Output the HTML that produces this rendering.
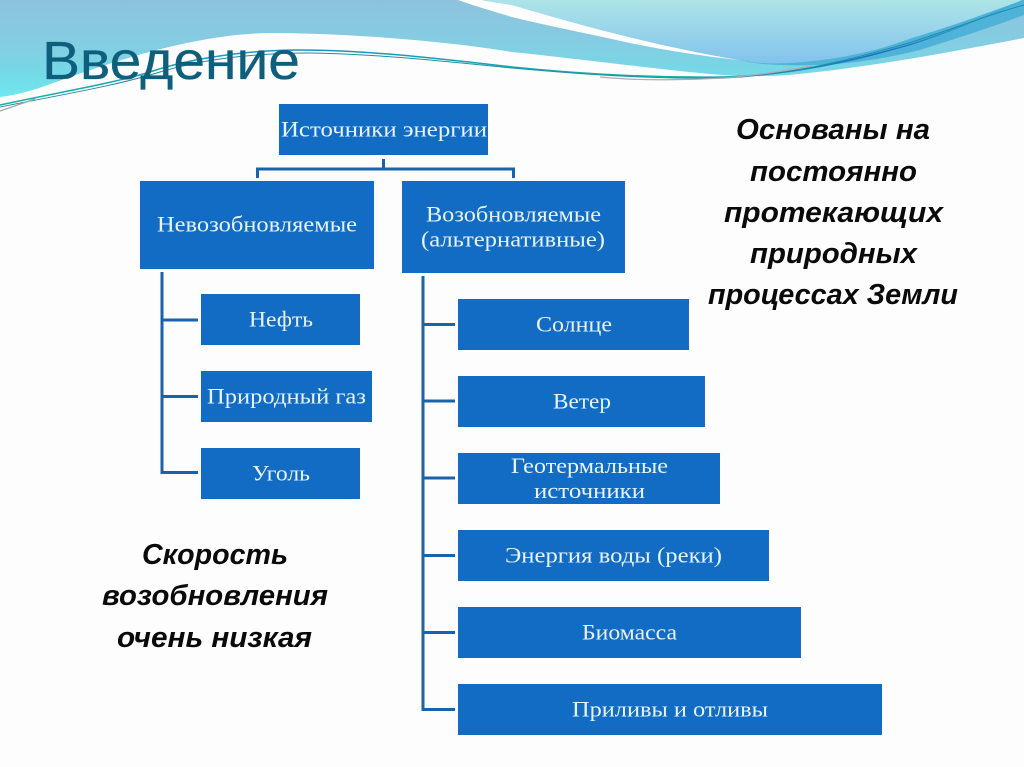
<!DOCTYPE html>
<html><head><meta charset="utf-8"><style>html,body{margin:0;padding:0;background:#fdfdfd}svg{display:block}</style></head><body>
<svg width="1024" height="767" viewBox="0 0 1024 767" xmlns="http://www.w3.org/2000/svg">
<defs>
<linearGradient id="a" x1="0" y1="0" x2="0" y2="1"><stop offset="0" stop-color="#8cc2dd"/><stop offset=".45" stop-color="#84cde2"/><stop offset=".75" stop-color="#75d8e6"/><stop offset="1" stop-color="#6ce9ee"/></linearGradient>
<linearGradient id="b" x1="0" y1="0" x2="0" y2="1"><stop offset="0" stop-color="#aee4e8"/><stop offset="1" stop-color="#82c3ec"/></linearGradient>
<linearGradient id="d" x1="0" y1="0" x2="1" y2="0"><stop offset="0" stop-color="#19b39c"/><stop offset=".3" stop-color="#1f8fc9"/><stop offset=".65" stop-color="#12b5a0"/><stop offset=".85" stop-color="#1c6fc4"/><stop offset="1" stop-color="#45b3d8"/></linearGradient>
</defs>
<rect width="1024" height="767" fill="#fdfdfd"/>
<path d="M0 0H1024V38C960 50 880 66 789 75C760 77 725 76 700 73C640 67 570 58 512 52C440 40 340 33 267 33C200 35 133 55 67 78C45 86 25 94 0 97Z" fill="url(#a)"/>
<path d="M458 0H482C490 2 500 3 512 5C570 22 650 45 739 60C700 56 650 48 612 39C570 30 540 24 512 17C495 12 475 6 458 0Z" fill="#fdfdfd"/>
<path d="M482 0H1024C1000 8 960 24 912 38C880 50 840 60 789 63C770 64 755 63 739 60C650 45 570 22 512 5C500 3 490 2 482 0Z" fill="url(#b)"/>
<path d="M739 60C755 63 770 64 789 63C840 60 880 50 912 38C960 24 1000 8 1024 0V15C990 28 945 42 920 50C880 60 840 65 812 65C780 66 755 64 739 60Z" fill="#4fb3d9"/>
<path d="M0 105C60 92 110 84 150 72C190 58 250 50 300 50C370 50 450 60 512 67C580 74 650 78 725 77C790 75 850 62 912 44C950 32 990 15 1024 0" fill="none" stroke="url(#d)" stroke-width="1.5"/>
<path d="M0 107C60 95 115 86 160 72C200 60 250 53 310 53C380 54 450 62 512 68C590 75 650 79 725 78C790 75 850 60 912 42C950 30 990 14 1024 5" fill="none" stroke="#1f8fa8" stroke-width="1"/>
<path d="M600 77C640 81 680 80 725 78C760 75 790 70 812 66" fill="none" stroke="#a9aeb0" stroke-width="1.2"/>
<path d="M0 111L35 99" fill="none" stroke="#a0a6a8" stroke-width="1.2"/>
<text x="42" y="79" font-family="'Liberation Sans',sans-serif" font-size="54" fill="#0f5f7c" stroke="#0f5f7c" stroke-width=".3" textLength="258" lengthAdjust="spacingAndGlyphs">Введение</text>
<g fill="none" stroke="#1a62ac" stroke-width="3">
<path d="M383.5 159V169M257.5 178V169H513.5V178"/>
<path d="M162 272V472.5H198M162 320H198M162 396.5H198"/>
<path d="M423 276V709.5H455M423 324.5H455M423 401H455M423 478H455M423 555.5H455M423 632.5H455"/>
</g>
<g fill="#126cc4">
<rect x="279" y="104" width="209" height="51"/>
<rect x="140" y="181" width="234" height="88"/>
<rect x="402" y="181" width="223" height="92"/>
<rect x="201" y="294" width="159" height="51"/>
<rect x="201" y="371" width="171" height="51"/>
<rect x="201" y="448" width="159" height="51"/>
<rect x="458" y="299" width="231" height="51"/>
<rect x="458" y="376" width="247" height="51"/>
<rect x="458" y="453" width="262" height="51"/>
<rect x="458" y="530" width="311" height="51"/>
<rect x="458" y="607" width="343" height="51"/>
<rect x="458" y="684" width="424" height="51"/>
</g>
<g font-family="'Liberation Serif',serif" font-size="22.5" fill="#e8f3fb">
<text x="281" y="136.5" textLength="206" lengthAdjust="spacingAndGlyphs">Источники энергии</text>
<text x="157" y="231.5" textLength="200" lengthAdjust="spacingAndGlyphs">Невозобновляемые</text>
<text x="426" y="221.5" textLength="175" lengthAdjust="spacingAndGlyphs">Возобновляемые</text>
<text x="421" y="246.5" textLength="184" lengthAdjust="spacingAndGlyphs">(альтернативные)</text>
<text x="249" y="326.5" textLength="64" lengthAdjust="spacingAndGlyphs">Нефть</text>
<text x="207" y="403.5" textLength="159" lengthAdjust="spacingAndGlyphs">Природный газ</text>
<text x="252" y="480.5" textLength="58" lengthAdjust="spacingAndGlyphs">Уголь</text>
<text x="536" y="331.5" textLength="76" lengthAdjust="spacingAndGlyphs">Солнце</text>
<text x="553" y="408.5" textLength="58" lengthAdjust="spacingAndGlyphs">Ветер</text>
<text x="511" y="473" textLength="157" lengthAdjust="spacingAndGlyphs">Геотермальные</text>
<text x="534" y="498" textLength="111" lengthAdjust="spacingAndGlyphs">источники</text>
<text x="505" y="562.5" textLength="217" lengthAdjust="spacingAndGlyphs">Энергия воды (реки)</text>
<text x="582" y="639.5" textLength="95" lengthAdjust="spacingAndGlyphs">Биомасса</text>
<text x="572" y="716.5" textLength="196" lengthAdjust="spacingAndGlyphs">Приливы и отливы</text>
</g>
<g font-family="'Liberation Sans',sans-serif" font-size="29" font-weight="bold" font-style="italic" fill="#0a0a0a">
<text x="736" y="139" textLength="194" lengthAdjust="spacingAndGlyphs">Основаны на</text>
<text x="750" y="181" textLength="167" lengthAdjust="spacingAndGlyphs">постоянно</text>
<text x="724" y="222" textLength="219" lengthAdjust="spacingAndGlyphs">протекающих</text>
<text x="750" y="263" textLength="167" lengthAdjust="spacingAndGlyphs">природных</text>
<text x="708" y="304" textLength="250" lengthAdjust="spacingAndGlyphs">процессах Земли</text>
<text x="142" y="564" textLength="146" lengthAdjust="spacingAndGlyphs">Скорость</text>
<text x="102" y="605" textLength="226" lengthAdjust="spacingAndGlyphs">возобновления</text>
<text x="117" y="647" textLength="195" lengthAdjust="spacingAndGlyphs">очень низкая</text>
</g>
</svg>
</body></html>
